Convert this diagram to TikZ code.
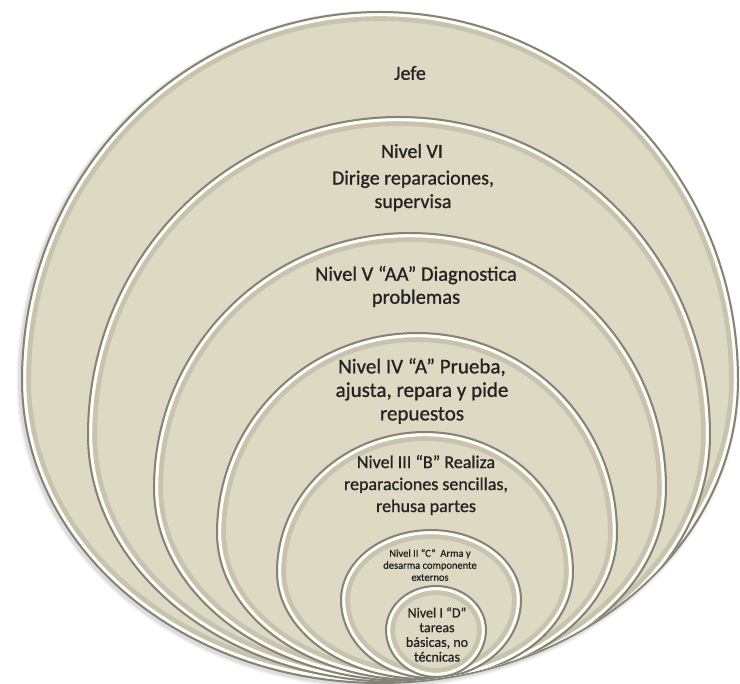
\documentclass[tikz,border=0pt]{standalone}
\usepackage{fontspec}
\setmainfont{Carlito}
\newfontfamily\lblfont{Carlito}[FakeBold=0.9]
\definecolor{ringfill}{HTML}{DDD9C3}
\definecolor{ringdark}{HTML}{85827A}
\definecolor{ringlight}{HTML}{FFFEF4}
\definecolor{ringshade}{HTML}{B5B19E}
\definecolor{txtcol}{HTML}{232323}
\newcommand\eggpath[5]{(#1-#3,#2) arc[start angle=180,end angle=360,x radius=#3,y radius=#4] arc[start angle=0,end angle=180,x radius=#3,y radius=#5] -- cycle}
% cx, widest y, rx, top y, bottom y
\newcommand\myring[5]{%
  \pgfmathsetmacro\rX{#3}%
  \pgfmathsetmacro\rT{#2-#4}%
  \pgfmathsetmacro\rB{#5-#2}%
  \pgfmathsetmacro\rXa{\rX-2.6}\pgfmathsetmacro\rTa{\rT-2.6}\pgfmathsetmacro\rBa{\rB-2.6}%
  \pgfmathsetmacro\rXb{\rX-6.5}\pgfmathsetmacro\rTb{\rT-6.5}\pgfmathsetmacro\rBb{\rB-6.5}%
  \fill[ringfill] \eggpath{#1}{#2}{\rX}{\rT}{\rB};
  \draw[ringshade, line width=5pt, opacity=0.55] \eggpath{#1}{#2}{\rXb}{\rTb}{\rBb};
  \draw[ringlight, line width=3.2pt] \eggpath{#1}{#2}{\rXa}{\rTa}{\rBa};
  \draw[ringdark, line width=2pt] \eggpath{#1}{#2}{\rX}{\rT}{\rB};
}
\tikzset{lbl/.style={text=txtcol, align=center, inner sep=0pt}}
\begin{document}
\begin{tikzpicture}[x=1pt,y=-1pt]
\useasboundingbox[fill=white] (0,0) rectangle (740,684);
% soft outer shadow
\begin{scope}[shift={(-2,2)}]
\draw[black, opacity=0.06, line width=7pt] \eggpath{380}{380}{358}{368}{303};
\draw[black, opacity=0.08, line width=3.5pt] \eggpath{380}{380}{358}{368}{303};
\end{scope}
\myring{380}{380}{358}{12}{683}
\begin{scope}
\clip \eggpath{380}{380}{357}{367}{302};
\myring{399}{435}{311}{117}{682}
\myring{410}{488}{256}{233}{681}
\myring{417}{533}{200}{333}{680}
\myring{425}{572}{148}{432}{679}
\myring{431}{600}{90}{530}{678}
\myring{436}{630}{50}{586}{677}
\end{scope}
% labels
\node[lbl, font=\lblfont\fontsize{20}{24}\selectfont] (jefe) at (410,73) {Jefe};
\node[lbl, font=\lblfont\fontsize{20}{24}\selectfont] (n6a) at (412,151) {Nivel VI};
\node[lbl, font=\lblfont\fontsize{20}{23.5}\selectfont] (n6b) at (413,191) {Dirige reparaciones,\\supervisa};
\node[lbl, font=\lblfont\fontsize{20.5}{23}\selectfont] (n5) at (416,286.5) {Nivel V “AA” Diagnostica\\problemas};
\node[lbl, font=\lblfont\fontsize{21}{23.5}\selectfont] (n4) at (422,391) {Nivel IV “A” Prueba,\\ajusta, repara y pide\\repuestos};
\node[lbl, font=\lblfont\fontsize{18}{22}\selectfont] (n3) at (426,485) {Nivel III “B” Realiza\\reparaciones sencillas,\\rehusa partes};
\node[lbl, font=\lblfont\fontsize{10.5}{12}\selectfont] (n2) at (430,565) {Nivel II “C”\ \ Arma y\\desarma componente\\externos};
\node[lbl, font=\lblfont\fontsize{14}{14.7}\selectfont] (n1) at (437,634.5) {Nivel I “D”\\tareas\\básicas, no\\técnicas};
\end{tikzpicture}
\end{document}
